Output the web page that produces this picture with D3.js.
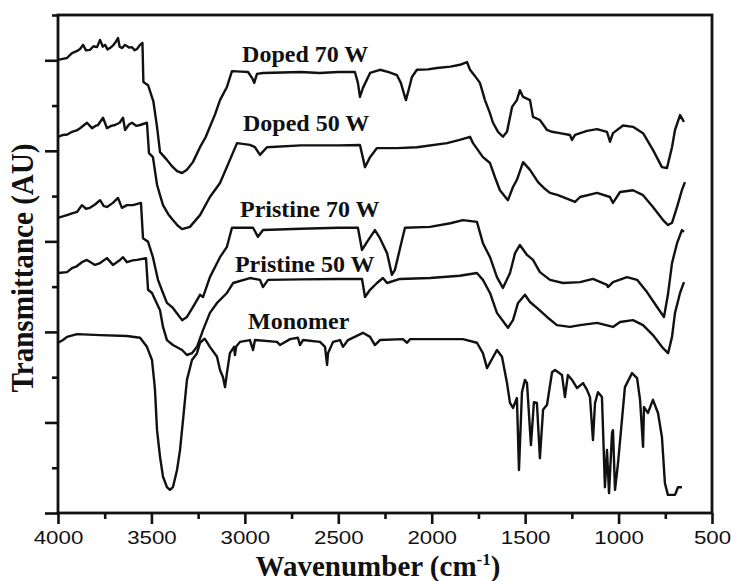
<!DOCTYPE html>
<html>
<head>
<meta charset="utf-8">
<script src="https://cdn.jsdelivr.net/npm/d3@7/dist/d3.min.js"></script>
<style>
  body { margin: 0; background: #fff; }
  svg { display: block; }
  .tick-label { font-family: "Liberation Sans", Arial, sans-serif; font-size: 18px; fill: #111; }
  .title { font-family: "Liberation Serif", "Times New Roman", serif; font-weight: bold; fill: #111; }
  .series-label { font-family: "Liberation Serif", "Times New Roman", serif; font-weight: bold; font-size: 24px; fill: #111; }
</style>
</head>
<body>
<div id="wrapper"></div>
<script>
// spectra: [wavenumber (cm-1), transmittance (AU, offset)]
const doped70 = [
  [4000,10.01],[3975,10.03],[3952,10.05],[3935,10.12],[3925,10.16],[3900,10.20],[3882,10.25],[3866,10.34],[3850,10.22],[3829,10.23],
  [3810,10.31],[3791,10.29],[3775,10.45],[3760,10.30],[3748,10.34],[3735,10.24],[3722,10.27],[3705,10.33],[3695,10.38],[3679,10.49],
  [3670,10.30],[3658,10.27],[3641,10.34],[3620,10.28],[3604,10.29],[3590,10.22],[3577,10.25],[3561,10.34],[3548,10.38],[3543,9.52],
  [3518,9.45],[3490,9.10],[3470,8.53],[3454,7.97],[3417,7.80],[3390,7.66],[3363,7.55],[3336,7.51],[3310,7.58],[3278,7.75],
  [3240,8.08],[3210,8.30],[3187,8.53],[3160,8.80],[3133,9.12],[3096,9.41],[3069,9.76],[3020,9.75],[2983,9.74],[2960,9.60],
  [2950,9.50],[2935,9.70],[2903,9.72],[2800,9.73],[2700,9.74],[2600,9.72],[2500,9.74],[2411,9.74],[2395,9.50],[2384,9.19],
  [2368,9.39],[2330,9.72],[2277,9.79],[2230,9.74],[2186,9.67],[2165,9.50],[2154,9.34],[2138,9.12],[2120,9.40],[2106,9.63],
  [2079,9.79],[2020,9.80],[1972,9.83],[1900,9.86],[1849,9.90],[1811,9.96],[1795,9.79],[1770,9.66],[1742,9.50],[1715,9.12],
  [1690,8.85],[1672,8.62],[1645,8.42],[1619,8.31],[1597,8.42],[1570,8.97],[1544,9.12],[1528,9.34],[1511,9.19],[1474,9.12],
  [1458,8.75],[1421,8.68],[1383,8.46],[1356,8.42],[1314,8.39],[1260,8.35],[1249,8.24],[1233,8.35],[1169,8.44],[1115,8.48],
  [1062,8.42],[1046,8.20],[1030,8.39],[976,8.56],[923,8.53],[869,8.39],[816,8.02],[768,7.64],[741,7.62],[714,8.08],
  [698,8.46],[671,8.79],[650,8.64]
]
const doped50 = [
  [4000,8.31],[3973,8.35],[3950,8.36],[3925,8.42],[3900,8.45],[3882,8.50],[3845,8.62],[3818,8.50],[3800,8.55],[3786,8.57],
  [3759,8.73],[3738,8.50],[3715,8.55],[3695,8.57],[3670,8.62],[3652,8.73],[3641,8.46],[3620,8.58],[3604,8.62],[3580,8.55],
  [3561,8.57],[3524,8.62],[3513,7.95],[3492,7.86],[3470,7.25],[3454,7.02],[3438,6.80],[3410,6.60],[3385,6.47],[3360,6.35],
  [3336,6.27],[3294,6.32],[3240,6.58],[3187,6.98],[3133,7.29],[3080,7.80],[3042,8.17],[2973,8.13],[2946,8.08],[2919,7.91],
  [2882,8.08],[2700,8.12],[2500,8.12],[2384,8.13],[2357,7.64],[2330,7.86],[2293,8.06],[2186,8.06],[2079,8.08],[1918,8.17],
  [1850,8.24],[1795,8.31],[1779,8.17],[1726,7.86],[1688,7.73],[1660,7.40],[1635,7.13],[1592,6.91],[1565,7.20],[1544,7.36],
  [1511,7.75],[1474,7.58],[1431,7.31],[1400,7.18],[1367,7.07],[1324,7.02],[1233,6.87],[1206,6.98],[1115,7.07],[1046,6.98],
  [1030,6.85],[992,7.09],[923,7.13],[869,7.02],[816,6.76],[762,6.47],[735,6.36],[714,6.41],[687,6.76],[661,7.13],[645,7.31]
]
const pristine70 = [
  [4000,6.52],[3975,6.55],[3952,6.58],[3925,6.62],[3898,6.65],[3872,6.80],[3850,6.72],[3829,6.74],[3800,6.82],[3775,6.91],
  [3755,6.78],[3738,6.76],[3706,6.85],[3679,6.96],[3658,6.74],[3631,6.80],[3599,6.80],[3556,6.85],[3545,6.07],[3518,5.99],
  [3492,5.65],[3465,5.15],[3438,4.86],[3417,4.64],[3385,4.53],[3336,4.26],[3310,4.33],[3278,4.55],[3240,4.82],[3224,4.77],
  [3187,5.21],[3133,5.65],[3096,5.88],[3069,6.30],[2956,6.30],[2930,6.10],[2903,6.25],[2700,6.28],[2500,6.30],[2395,6.30],
  [2373,5.81],[2346,5.99],[2304,6.25],[2277,6.07],[2239,5.74],[2213,5.26],[2197,5.37],[2159,6.03],[2143,6.30],[2009,6.32],
  [1900,6.40],[1833,6.47],[1758,6.43],[1726,5.96],[1688,5.65],[1651,5.21],[1619,4.97],[1581,5.30],[1554,5.74],[1528,5.92],
  [1490,5.70],[1458,5.59],[1421,5.32],[1367,5.15],[1297,5.08],[1206,5.10],[1137,5.17],[1062,5.04],[1057,4.99],[1030,5.10],
  [955,5.21],[901,5.15],[848,4.88],[794,4.55],[757,4.33],[736,4.82],[714,5.52],[687,5.96],[661,6.25],[650,6.21]
]
const pristine50 = [
  [4000,5.30],[3952,5.32],[3925,5.41],[3900,5.45],[3872,5.54],[3845,5.59],[3802,5.48],[3775,5.52],[3738,5.63],[3706,5.48],
  [3668,5.59],[3652,5.65],[3631,5.54],[3600,5.58],[3577,5.59],[3529,5.63],[3518,4.93],[3497,4.86],[3454,4.48],[3438,4.11],
  [3417,3.82],[3385,3.71],[3336,3.60],[3310,3.49],[3283,3.53],[3256,3.67],[3224,4.04],[3187,4.42],[3149,4.64],[3096,4.86],
  [3063,5.08],[2973,5.19],[2919,5.15],[2903,4.99],[2876,5.15],[2700,5.16],[2500,5.17],[2373,5.17],[2357,4.77],[2330,4.93],
  [2293,5.08],[2261,5.19],[2239,5.08],[2170,5.17],[2009,5.19],[1850,5.24],[1758,5.30],[1726,5.15],[1688,4.86],[1651,4.42],
  [1592,4.09],[1565,4.26],[1538,4.64],[1501,4.82],[1474,4.66],[1437,4.53],[1383,4.33],[1330,4.15],[1260,4.11],[1206,4.15],
  [1115,4.20],[1030,4.11],[992,4.22],[923,4.26],[869,4.15],[816,3.93],[762,3.64],[735,3.53],[714,3.89],[698,4.42],
  [671,4.86],[650,5.10]
]
const monomer = [
  [4000,3.76],[3973,3.82],[3952,3.89],[3898,3.95],[3775,3.93],[3631,3.91],[3561,3.87],[3524,3.67],[3497,3.38],[3486,2.94],
  [3481,2.72],[3470,1.83],[3454,1.24],[3438,0.80],[3417,0.57],[3401,0.51],[3385,0.57],[3363,0.95],[3347,1.39],[3331,2.05],
  [3310,2.94],[3283,3.38],[3256,3.53],[3240,3.76],[3215,3.85],[3187,3.67],[3149,3.45],[3133,3.16],[3117,3.00],[3106,2.78],
  [3096,3.09],[3080,3.53],[3058,3.67],[3053,3.49],[3047,3.67],[3026,3.78],[2973,3.82],[2956,3.60],[2946,3.82],[2828,3.78],
  [2812,3.71],[2758,3.84],[2716,3.87],[2705,3.71],[2689,3.82],[2598,3.78],[2571,3.67],[2560,3.27],[2555,3.53],[2528,3.78],
  [2491,3.82],[2475,3.67],[2448,3.82],[2368,3.98],[2330,3.89],[2304,3.71],[2277,3.82],[2154,3.84],[2132,3.76],[2116,3.84],
  [1833,3.84],[1758,3.76],[1726,3.53],[1704,3.20],[1651,3.60],[1624,3.45],[1597,2.87],[1581,2.43],[1565,2.32],[1544,2.54],
  [1533,0.95],[1517,2.67],[1501,2.94],[1490,2.87],[1469,1.50],[1453,2.45],[1437,2.43],[1421,1.21],[1404,2.28],[1383,2.39],
  [1356,3.11],[1340,3.16],[1303,3.05],[1287,2.56],[1271,3.05],[1249,2.94],[1222,2.76],[1190,2.87],[1169,2.72],[1153,2.56],
  [1137,1.61],[1126,2.43],[1110,2.67],[1089,2.56],[1083,1.83],[1073,0.57],[1062,1.39],[1051,0.44],[1035,1.77],[1030,1.83],
  [1019,0.51],[1003,1.10],[982,2.05],[966,2.78],[928,3.09],[901,2.98],[885,2.50],[869,1.46],[864,2.34],[843,2.21],
  [816,2.50],[789,2.21],[768,1.68],[752,0.66],[736,0.40],[698,0.40],[682,0.57],[661,0.57]
]

const seriesNames = ["Doped 70 W", "Doped 50 W", "Pristine 70 W", "Pristine 50 W", "Monomer"]
const seriesValues = [doped70, doped50, pristine70, pristine50, monomer]
// where each name sits, in data units
const labelAt = [[3015, 9.96], [3010, 8.44], [3026, 6.54], [3053, 5.32], [2983, 4.06]]

const xTicks = [4000, 3500, 3000, 2500, 2000, 1500, 1000, 500]
const xMinorTicks = [3750, 3250, 2750, 2250, 1750, 1250, 750]
const yTicks = [0, 2, 4, 6, 8, 10]
const yMinorTicks = [1, 3, 5, 7, 9, 11]

const xTitle = "Wavenumber (cm"
const yTitle = "Transmittance (AU)"

let dimensions = {
  width: 731,
  height: 581,
  margin: { top: 15, right: 19, bottom: 68, left: 58 }
}
dimensions.boundedWidth = dimensions.width - dimensions.margin.left - dimensions.margin.right
dimensions.boundedHeight = dimensions.height - dimensions.margin.top - dimensions.margin.bottom

const xScale = d3.scaleLinear()
  .domain([4000, 500])
  .range([0, dimensions.boundedWidth])

const yScale = d3.scaleLinear()
  .domain([0, 11])
  .range([dimensions.boundedHeight, 0])

const wrapper = d3.select("#wrapper")
  .append("svg")
    .attr("width", dimensions.width)
    .attr("height", dimensions.height)

const bounds = wrapper.append("g")
  .attr("transform", `translate(${dimensions.margin.left},${dimensions.margin.top})`)

// spectra
const lineGen = d3.line()
  .x(d => xScale(d[0]))
  .y(d => yScale(d[1]))

bounds.selectAll(".spectrum")
  .data(seriesValues)
  .enter().append("path")
    .attr("class", "spectrum")
    .attr("d", lineGen)
    .attr("fill", "none")
    .attr("stroke", "#111")
    .attr("stroke-width", 2.4)
    .attr("stroke-linejoin", "round")

bounds.selectAll(".series-label")
  .data(seriesNames)
  .enter().append("text")
    .attr("class", "series-label")
    .attr("x", (d, i) => xScale(labelAt[i][0]))
    .attr("y", (d, i) => yScale(labelAt[i][1]))
    .text(d => d)

// axes
const xAxis = d3.axisBottom(xScale)
  .tickValues(xTicks)
  .tickSize(11)
  .tickSizeOuter(0)
  .tickPadding(7)
  .tickFormat(d3.format("d"))

const xAxisGroup = bounds.append("g")
  .attr("transform", `translate(0,${dimensions.boundedHeight})`)
  .call(xAxis)

xAxisGroup.selectAll("text")
  .attr("class", "tick-label")
  .attr("font-size", null)
  .attr("font-family", null)
  .attr("textLength", d => String(d).length * 12.4)
  .attr("lengthAdjust", "spacingAndGlyphs")

bounds.append("g")
  .attr("transform", `translate(0,${dimensions.boundedHeight})`)
  .call(d3.axisBottom(xScale).tickValues(xMinorTicks).tickSize(6).tickSizeOuter(0).tickFormat(""))

bounds.append("g")
  .call(d3.axisLeft(yScale).tickValues(yTicks).tickSize(13).tickSizeOuter(0).tickFormat(""))

bounds.append("g")
  .call(d3.axisLeft(yScale).tickValues(yMinorTicks).tickSize(6).tickSizeOuter(0).tickFormat(""))

bounds.selectAll(".domain").remove()
bounds.selectAll(".tick line")
  .attr("stroke", "#111")
  .attr("stroke-width", 2.6)

// frame
bounds.append("rect")
  .attr("width", dimensions.boundedWidth)
  .attr("height", dimensions.boundedHeight)
  .attr("fill", "none")
  .attr("stroke", "#111")
  .attr("stroke-width", 2.8)

// titles
const xLabel = wrapper.append("text")
  .attr("class", "title")
  .attr("x", 378)
  .attr("y", 576)
  .attr("text-anchor", "middle")
  .style("font-size", "29px")

xLabel.append("tspan").text(xTitle)
xLabel.append("tspan")
  .attr("dy", -11)
  .style("font-size", "17px")
  .text("-1")
xLabel.append("tspan")
  .attr("dy", 11)
  .text(")")

wrapper.append("text")
  .attr("class", "title")
  .attr("transform", `translate(33,268) rotate(-90)`)
  .attr("text-anchor", "middle")
  .attr("textLength", 249)
  .attr("lengthAdjust", "spacingAndGlyphs")
  .style("font-size", "32px")
  .text(yTitle)
</script>
</body>
</html>
